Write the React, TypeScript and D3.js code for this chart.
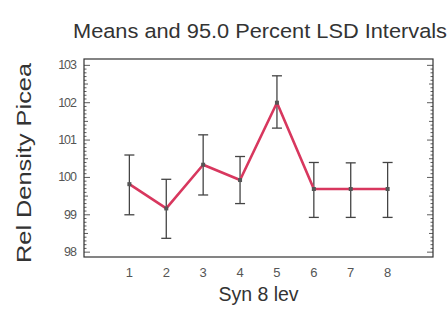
import { useEffect, useRef } from 'react';
import * as d3 from 'd3';

const LEVELS = [1, 2, 3, 4, 5, 6, 7, 8];
const MEANS = [99.82, 99.17, 100.34, 99.93, 102.0, 99.69, 99.69, 99.69];
const LOWER = [99.0, 98.37, 99.53, 99.3, 101.32, 98.93, 98.93, 98.93];
const UPPER = [100.6, 99.95, 101.14, 100.56, 102.72, 100.4, 100.39, 100.4];
const Y_TICKS = [98, 99, 100, 101, 102, 103];

const INK = '#333333';
const LABEL = '#555555';
const LINE = '#d8375e';
const FONT = 'Liberation Sans, Arial, sans-serif';

export default function App() {
  const ref = useRef<SVGSVGElement>(null);

  useEffect(() => {
    const svg = d3.select(ref.current);
    svg.selectAll('*').remove();
    const width = 447;
    const height = 309;
    const frame = { left: 84, right: 433, top: 59, bottom: 257 };

    const x = d3.scaleLinear().domain([-0.23, 9.23]).range([frame.left, frame.right]);
    const y = d3.scaleLinear().domain([97.87, 103.17]).range([frame.bottom, frame.top]);

    svg.append('rect').attr('width', width).attr('height', height).attr('fill', '#ffffff');

    svg
      .append('text')
      .attr('x', 73)
      .attr('y', 38)
      .attr('fill', INK)
      .attr('font-family', FONT)
      .attr('font-size', 20.5)
      .attr('textLength', 374)
      .attr('lengthAdjust', 'spacingAndGlyphs')
      .text('Means and 95.0 Percent LSD Intervals');

    svg
      .append('rect')
      .attr('x', frame.left)
      .attr('y', frame.top)
      .attr('width', frame.right - frame.left)
      .attr('height', frame.bottom - frame.top)
      .attr('fill', 'none')
      .attr('stroke', INK)
      .attr('stroke-width', 1.2);

    // inward ticks on both vertical sides
    const minor = d3.range(98, 103.01, 0.1).map((v) => +v.toFixed(1));
    const g = svg.append('g');
    for (const side of [frame.left, frame.right]) {
      const dir = side === frame.left ? 1 : -1;
      g.append('g')
        .selectAll('line')
        .data(minor)
        .join('line')
        .attr('x1', side)
        .attr('x2', (d) => side + dir * (Y_TICKS.includes(d) ? 6 : d % 0.5 === 0 ? 4 : 2.5))
        .attr('y1', (d) => y(d))
        .attr('y2', (d) => y(d))
        .attr('stroke', INK)
        .attr('stroke-width', 0.8);
    }

    svg
      .append('g')
      .selectAll('text')
      .data(Y_TICKS)
      .join('text')
      .attr('x', frame.left - 8)
      .attr('y', (d) => y(d) + 4)
      .attr('text-anchor', 'end')
      .attr('fill', LABEL)
      .attr('font-family', FONT)
      .attr('font-size', 12.5)
      .attr('letter-spacing', -1)
      .text((d) => d);

    svg
      .append('g')
      .selectAll('text')
      .data(LEVELS)
      .join('text')
      .attr('x', (d) => x(d))
      .attr('y', 277)
      .attr('text-anchor', 'middle')
      .attr('fill', LABEL)
      .attr('font-family', FONT)
      .attr('font-size', 13)
      .text((d) => d);

    svg
      .append('text')
      .attr('x', (frame.left + frame.right) / 2)
      .attr('y', 301)
      .attr('text-anchor', 'middle')
      .attr('fill', INK)
      .attr('font-family', FONT)
      .attr('font-size', 19.5)
      .text('Syn 8 lev');

    svg
      .append('text')
      .attr('transform', `translate(31,163) rotate(-90)`)
      .attr('text-anchor', 'middle')
      .attr('fill', INK)
      .attr('font-family', FONT)
      .attr('font-size', 21)
      .attr('textLength', 200)
      .attr('lengthAdjust', 'spacingAndGlyphs')
      .text('Rel Density Picea');

    const bars = svg.append('g').attr('stroke', '#444444').attr('stroke-width', 1.3);
    LEVELS.forEach((lv, i) => {
      const cx = x(lv);
      bars.append('line').attr('x1', cx).attr('x2', cx).attr('y1', y(LOWER[i])).attr('y2', y(UPPER[i]));
      bars.append('line').attr('x1', cx - 5).attr('x2', cx + 5).attr('y1', y(LOWER[i])).attr('y2', y(LOWER[i]));
      bars.append('line').attr('x1', cx - 5).attr('x2', cx + 5).attr('y1', y(UPPER[i])).attr('y2', y(UPPER[i]));
    });

    const line = d3
      .line<number>()
      .x((_, i) => x(LEVELS[i]))
      .y((d) => y(d));
    svg
      .append('path')
      .attr('d', line(MEANS))
      .attr('fill', 'none')
      .attr('stroke', LINE)
      .attr('stroke-width', 2.6)
      .attr('stroke-linejoin', 'round');

    svg
      .append('g')
      .selectAll('rect')
      .data(MEANS)
      .join('rect')
      .attr('x', (_, i) => x(LEVELS[i]) - 2)
      .attr('y', (d) => y(d) - 2)
      .attr('width', 4)
      .attr('height', 4)
      .attr('fill', '#555555');
  }, []);

  return (
    <svg
      ref={ref}
      width={447}
      height={309}
      style={{ position: 'absolute', left: 0, top: 0, display: 'block' }}
    />
  );
}
